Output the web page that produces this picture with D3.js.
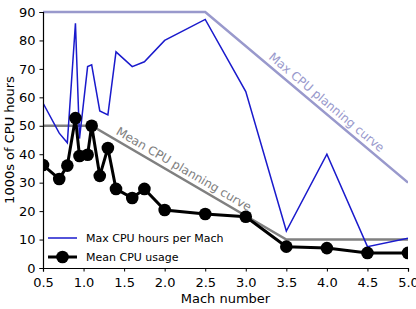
<!DOCTYPE html>
<html><head><meta charset="utf-8">
<script src="https://cdn.jsdelivr.net/npm/d3@7"></script>
<style>body{margin:0;background:#fff}svg{display:block;font-family:"DejaVu Sans",sans-serif}</style>
</head><body>
<script>
const maxMach = [0.5,0.7,0.8,0.9,0.95,1.05,1.1,1.2,1.3,1.4,1.6,1.75,2.0,2.5,3.0,3.5,4.0,4.5,5.0];
const maxHours = [58,47.4,44,86,45.5,70.8,71.4,55.2,53.8,76,70.8,72.5,80,87.4,62,13,40,7.5,10.5];
const meanMach = [0.5,0.7,0.8,0.9,0.95,1.05,1.1,1.2,1.3,1.4,1.6,1.75,2.0,2.5,3.0,3.5,4.0,4.5,5.0];
const meanHours = [36.2,31.3,36,52.7,39.4,39.8,50,32.4,42.2,27.8,24.6,27.8,20.4,19,18,7.5,7,5.3,5.3];
const maxPlanMach = [0.5,2.5,5.0];
const maxPlanHours = [90,90,30];
const meanPlanMach = [0.5,1.1,3.5,5.0];
const meanPlanHours = [50,50,10,10];
const xTicks = [0.5,1.0,1.5,2.0,2.5,3.0,3.5,4.0,4.5,5.0];
const yTicks = [0,10,20,30,40,50,60,70,80,90];

const W=416,H=309, m={l:43,r:8,t:12,b:41};
const svg=d3.select("body").append("svg").attr("width",W).attr("height",H);
const x=d3.scaleLinear().domain([0.5,5.0]).range([m.l,W-m.r]);
const y=d3.scaleLinear().domain([0,90]).range([H-m.b,m.t]);
svg.append("defs").append("clipPath").attr("id","clip").append("rect")
  .attr("x",m.l).attr("y",m.t-3).attr("width",W-m.r-m.l).attr("height",H-m.b-m.t+3);
const g=svg.append("g").attr("clip-path","url(#clip)");
const line=d3.line().x(d=>x(d[0])).y(d=>y(d[1]));
const zip=(a,b)=>a.map((v,i)=>[v,b[i]]);

g.append("path").datum(zip(maxPlanMach,maxPlanHours)).attr("d",line)
 .attr("fill","none").attr("stroke","#9999cc").attr("stroke-width",2.5);
g.append("path").datum(zip(meanPlanMach,meanPlanHours)).attr("d",line)
 .attr("fill","none").attr("stroke","#808080").attr("stroke-width",2.5);
g.append("path").datum(zip(maxMach,maxHours)).attr("d",line)
 .attr("fill","none").attr("stroke","#1a1acc").attr("stroke-width",1.5);
const md=zip(meanMach,meanHours);
g.append("path").datum(md).attr("d",line)
 .attr("fill","none").attr("stroke","#000").attr("stroke-width",3);
g.selectAll("circle").data(md).join("circle")
 .attr("cx",d=>x(d[0])).attr("cy",d=>y(d[1])).attr("r",6.3).attr("fill","#000");

// curve labels
function lbl(text,p0,p1,fill,t,off){
  const a0=[x(p0[0]),y(p0[1])], a1=[x(p1[0]),y(p1[1])];
  const ang=Math.atan2(a1[1]-a0[1],a1[0]-a0[0])*180/Math.PI;
  const cx=a0[0]+(a1[0]-a0[0])*t, cy=a0[1]+(a1[1]-a0[1])*t;
  svg.append("text").attr("transform",`translate(${cx},${cy}) rotate(${ang}) translate(0,${-off})`)
   .attr("text-anchor","middle").attr("font-size",12).attr("fill",fill).text(text);
}
lbl("Mean CPU planning curve",[1.1,50],[3.5,10],"#808080",0.45,5);
lbl("Max CPU planning curve",[2.5,90],[5.0,30],"#9999cc",0.57,5);

// axes
const xa=svg.append("g").attr("transform",`translate(0,${H-m.b})`)
 .call(d3.axisBottom(x).tickValues(xTicks).tickFormat(d3.format(".1f")).tickSizeOuter(0).tickSize(3.5));
const ya=svg.append("g").attr("transform",`translate(${m.l},0)`)
 .call(d3.axisLeft(y).tickValues(yTicks).tickSizeOuter(0).tickSize(3.5));
[xa,ya].forEach(a=>{a.selectAll("text").attr("font-size",13).attr("fill","#000").attr("font-family","DejaVu Sans");
 a.select(".domain").attr("stroke","#000").attr("stroke-width",1.2);
 a.selectAll(".tick line").attr("stroke","#000");});
xa.selectAll("text").attr("dy","0.95em");
ya.selectAll("text").attr("dx","-1px");

svg.append("text").attr("x",(m.l+W-m.r)/2).attr("y",H-6).attr("text-anchor","middle")
 .attr("font-size",13).text("Mach number");
svg.append("text").attr("transform",`translate(14,${(m.t+H-m.b)/2}) rotate(-90)`)
 .attr("text-anchor","middle").attr("font-size",13).text("1000s of CPU hours");

// legend
const lg=svg.append("g");
lg.append("line").attr("x1",48).attr("x2",77).attr("y1",238).attr("y2",238).attr("stroke","#1a1acc").attr("stroke-width",1.5);
lg.append("text").attr("x",86).attr("y",238).attr("dy","0.35em").attr("font-size",11).text("Max CPU hours per Mach");
lg.append("line").attr("x1",48).attr("x2",77).attr("y1",257).attr("y2",257).attr("stroke","#000").attr("stroke-width",3);
lg.append("circle").attr("cx",62.5).attr("cy",257).attr("r",6.3).attr("fill","#000");
lg.append("text").attr("x",86).attr("y",257).attr("dy","0.35em").attr("font-size",11).text("Mean CPU usage");
</script>
</body></html>
